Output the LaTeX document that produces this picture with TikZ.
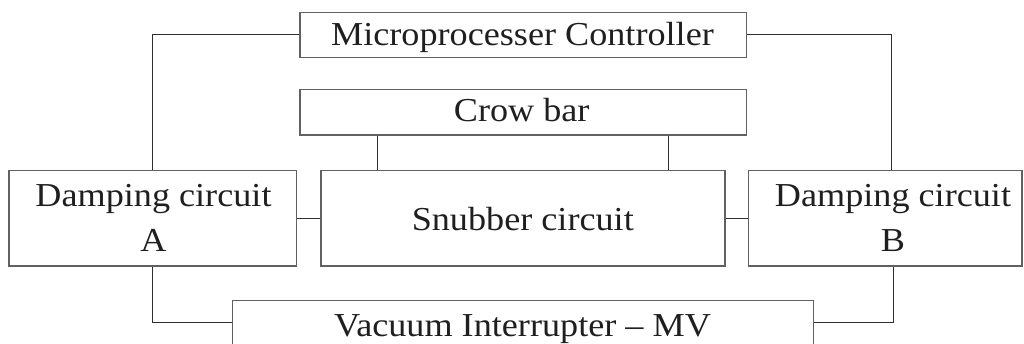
\documentclass[tikz,border=0pt]{standalone}
\usepackage{fontspec}
\setmainfont{Liberation Serif}[FakeStretch=1.08]
\begin{document}
\begin{tikzpicture}[x=1pt,y=-1pt,
  box/.style={draw=black!62, line width=1.3pt, inner sep=0pt, fill=none},
  wire/.style={draw=black!82, line width=1.3pt},
  lbl/.style={inner sep=0pt, anchor=base, text=black!88, font=\fontsize{33.5pt}{40pt}\selectfont}]
\useasboundingbox (0,0) rectangle (1024,343);
\clip (0,0) rectangle (1024,343);
% boxes
\node[box, minimum width=446.7pt, minimum height=45pt] (micro) at (523.3,34.8) {};
\node[box, minimum width=446.7pt, minimum height=45.7pt] (crow) at (523.3,112.2) {};
\node[box, minimum width=287.7pt, minimum height=95.3pt] (dA) at (152.8,218.4) {};
\node[box, minimum width=404pt, minimum height=95.3pt] (snub) at (523,218.4) {};
\node[box, minimum width=273.7pt, minimum height=95.3pt] (dB) at (885.2,218.4) {};
\node[box, minimum width=581pt, minimum height=44.3pt] (vac) at (522.8,322.8) {};
% labels
\node[lbl] (tmicro) at (522.5,45) {Microprocesser Controller};
\node[lbl] (tcrow) at (521.7,121.7) {Crow bar};
\node[lbl] (tA1) at (153.5,206.7) {Damping circuit};
\node[lbl] (tA2) at (153.5,251.7) {A};
\node[lbl] (tsnub) at (522.8,230) {Snubber circuit};
\node[lbl] (tB1) at (893,206.7) {Damping circuit};
\node[lbl] (tB2) at (893,251.7) {B};
\node[lbl] (tvac) at (522.5,336) {Vacuum Interrupter – MV};
% helper coordinates
\coordinate (cl) at (377.7,0);
\coordinate (cr) at (668.7,0);
\coordinate (bt) at (891.7,0);
\coordinate (bb) at (893.3,0);
% connectors
\draw[wire] (micro.west) -| (dA.north);
\draw[wire] (micro.east) -| (bt |- dB.north);
\draw[wire] (cl |- crow.south) -- (cl |- snub.north);
\draw[wire] (cr |- crow.south) -- (cr |- snub.north);
\draw[wire] (dA.east) -- (snub.west);
\draw[wire] (snub.east) -- (dB.west);
\draw[wire] (dA.south) |- (vac.west);
\draw[wire] (bb |- dB.south) |- (vac.east);
\end{tikzpicture}
\end{document}
